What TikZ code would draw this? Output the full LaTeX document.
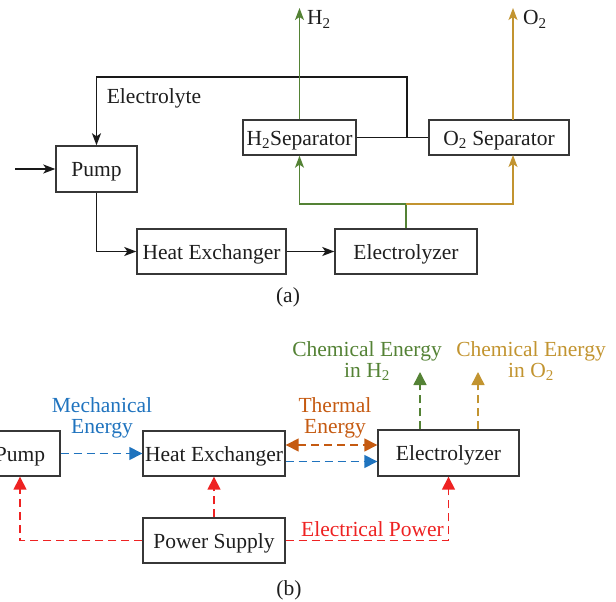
\documentclass[tikz,border=0pt]{standalone}
\usepackage{fontspec}
\setmainfont{Liberation Serif}
\usetikzlibrary{arrows.meta}
\definecolor{boxc}{RGB}{55,55,55}
\definecolor{txtc}{RGB}{30,30,30}
\definecolor{blkc}{RGB}{25,25,25}
\definecolor{cgreen}{RGB}{84,130,53}
\definecolor{cgold}{RGB}{194,148,48}
\definecolor{cblue}{RGB}{31,115,190}
\definecolor{corange}{RGB}{197,90,17}
\definecolor{cred}{RGB}{238,34,34}
\begin{document}
\begin{tikzpicture}[x=1pt,y=-1pt,
  font=\fontsize{21.5}{21}\selectfont,
  box/.style={draw=boxc,line width=1.4pt,inner sep=0pt,text height=16pt,text depth=1pt,text=txtc},
  lbl/.style={align=center,inner sep=0pt},
  blk/.style={draw=blkc,line width=1.4pt},
  gl/.style={draw=cgreen,line width=1.3pt},
  ol/.style={draw=cgold,line width=1.3pt},
  arA/.style={-{Stealth[length=12pt,width=9pt,inset=3pt]}},
  arB/.style={-{Triangle[length=13pt,width=13pt]}},
  arBB/.style={{Triangle[length=13pt,width=13pt]}-{Triangle[length=13pt,width=13pt]}},
  dsh/.style={line width=1.5pt,dash pattern=on 8pt off 5pt}]
\useasboundingbox (0,0) rectangle (616,602);

% ---------- (a) ----------
\node[box, minimum width=81pt, minimum height=46pt] (pumpA) at (96.5,169) {Pump};
\node[box, minimum width=149pt, minimum height=45pt] (heA) at (211.5,251.5) {Heat Exchanger};
\node[box, minimum width=142pt, minimum height=45pt] (elA) at (406,251.5) {Electrolyzer};
\node[box, minimum width=113pt, minimum height=35pt] (h2s) at (299.5,137.5) {H\textsubscript{2}Separator};
\node[box, minimum width=140pt, minimum height=35pt] (o2s) at (499,137.5) {O\textsubscript{2} Separator};

\coordinate (inA) at (15,169);
\coordinate (jn) at (407,137.5);
\coordinate (tl) at (407,77);
\coordinate (gs) at (406,204);
\coordinate (h2t) at (299.5,8);
\coordinate (o2b) at (513,155);
\coordinate (o2top) at (513,120);
\coordinate (o2t) at (513,8);

\draw[blk] (h2s.east) -- (o2s.west);
\draw[blk,arA] (jn) -- (tl) -| (pumpA.north);
\draw[blk,arA] (inA) -- (pumpA.west);
\draw[blk,arA] (pumpA.south) |- (heA.west);
\draw[blk,arA] (heA.east) -- (elA.west);
\draw[gl,arA] (elA.north) -- (gs) -| (h2s.south);
\draw[ol,arA] (gs) -| (o2b);
\draw[gl,arA] (h2s.north) -- (h2t);
\draw[ol,arA] (o2top) -- (o2t);

\node[anchor=base west,inner sep=0pt,text=txtc] (h2l) at (307,25) {H\textsubscript{2}};
\node[anchor=base west,inner sep=0pt,text=txtc] (o2l) at (523,25) {O\textsubscript{2}};
\node[anchor=base,inner sep=0pt,text=txtc] (ely) at (154,103) {Electrolyte};
\node[anchor=base,inner sep=0pt,text=txtc] (la) at (288,302) {(a)};

% ---------- (b) ----------
\node[box, minimum width=80pt, minimum height=45pt] (pumpB) at (20,453.5) {Pump};
\node[box, minimum width=142pt, minimum height=45pt] (heB) at (214,453.5) {Heat Exchanger};
\node[box, minimum width=141pt, minimum height=46pt] (elB) at (448.5,453) {Electrolyzer};
\node[box, minimum width=142pt, minimum height=45pt] (psB) at (214,540.5) {Power Supply};

\coordinate (gt) at (420,372);
\coordinate (ot) at (478,372);

\draw[dsh,cblue,arB] (pumpB.east) -- (heB.west);
\draw[dsh,corange,arBB] ([yshift=8.5pt]heB.east) -- ([yshift=8pt]elB.west);
\draw[dsh,cblue,arB] ([yshift=-8pt]heB.east) -- ([yshift=-8.5pt]elB.west);
\draw[dsh,cgreen,arB] ([xshift=-28.5pt]elB.north) -- (gt);
\draw[dsh,cgold,arB] ([xshift=29.5pt]elB.north) -- (ot);
\draw[dsh,cred,arB] (psB.west) -| (pumpB.south);
\draw[dsh,cred,arB] (psB.north) -- (heB.south);
\draw[dsh,cred,arB] (psB.east) -| (elB.south);

\node[lbl,text=cblue] (mech) at (102,418) {Mechanical\\Energy};
\node[lbl,text=corange] (therm) at (335,418) {Thermal\\Energy};
\node[lbl,text=cgreen] (chh) at (367,361) {Chemical Energy\\in H\textsubscript{2}};
\node[lbl,text=cgold] (cho) at (531,361) {Chemical Energy\\in O\textsubscript{2}};
\node[anchor=base,inner sep=0pt,text=cred] (epw) at (372.5,536) {Electrical Power};
\node[anchor=base,inner sep=0pt,text=txtc] (lb) at (289,595) {(b)};
\end{tikzpicture}
\end{document}
